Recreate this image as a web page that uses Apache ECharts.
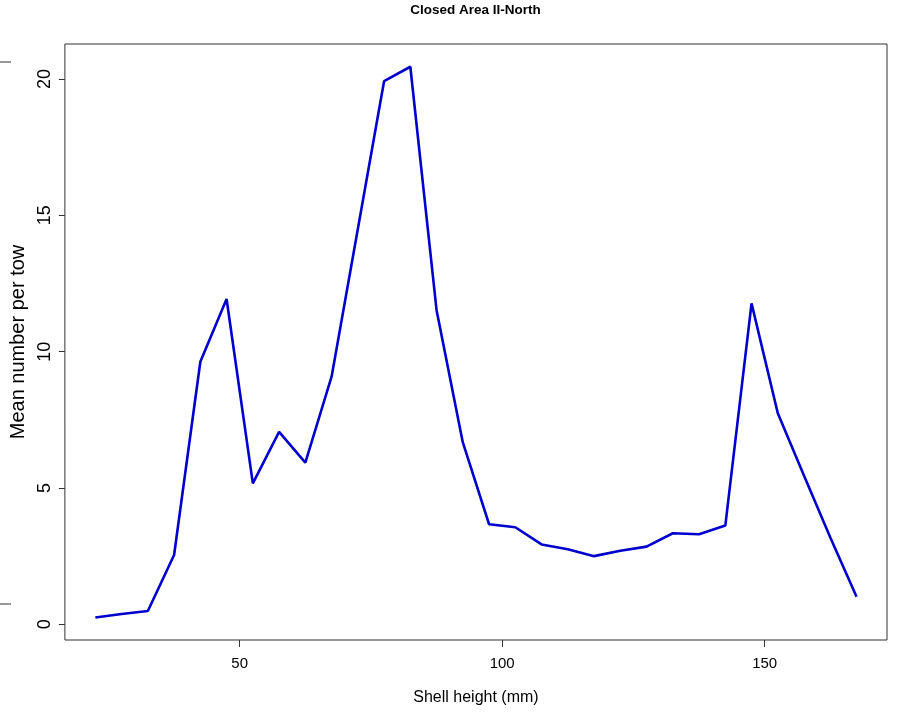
<!DOCTYPE html>
<html>
<head>
<meta charset="utf-8">
<script src="https://cdn.jsdelivr.net/npm/echarts@6/dist/echarts.min.js"></script>
<style>
html,body{margin:0;padding:0;background:#fff;}
#chart{width:897px;height:717px;}
</style>
</head>
<body>
<div id="chart"></div>
<script>
// Data
var shellHeight = [22.5, 27.5, 32.5, 37.5, 42.5, 47.5, 52.5, 57.5, 62.5, 67.5,
                   72.5, 77.5, 82.5, 87.5, 92.5, 97.5, 102.5, 107.5, 112.5, 117.5,
                   122.5, 127.5, 132.5, 137.5, 142.5, 147.5, 152.5, 157.5, 162.5, 167.5];
var meanPerTow = [0.25, 0.38, 0.49, 2.54, 9.63, 11.93, 5.17, 7.06, 5.93, 9.08,
                  14.5, 19.92, 20.45, 11.52, 6.67, 3.67, 3.56, 2.93, 2.75, 2.50,
                  2.70, 2.85, 3.34, 3.30, 3.62, 11.77, 7.74, 5.45, 3.18, 1.01];
var xTicks = [50, 100, 150];
var yTicks = [0, 5, 10, 15, 20];
var titleText = 'Closed Area II-North';
var xName = 'Shell height (mm)';
var yName = 'Mean number per tow';

var gridL = 64, gridT = 44, gridR = 10, gridB = 77;
var W = 897;

var chart = echarts.init(document.getElementById('chart'), null, {renderer: 'canvas'});
chart.setOption({
  backgroundColor: '#fff',
  animation: false,
  title: {
    text: titleText,
    left: (gridL + (W - gridR)) / 2,
    textAlign: 'center',
    top: 3,
    padding: 0,
    textStyle: {fontFamily: 'Liberation Sans', fontWeight: 'bold', fontSize: 13.5, color: '#000'}
  },
  grid: {
    left: gridL, top: gridT, right: gridR, bottom: gridB,
    show: true, borderColor: '#333', borderWidth: 1, backgroundColor: 'transparent'
  },
  xAxis: {
    type: 'value',
    min: 16.7, max: 173.3,
    name: xName,
    nameLocation: 'middle',
    nameGap: 50,
    nameTextStyle: {fontFamily: 'Liberation Sans', fontSize: 16, color: '#000'},
    axisLine: {show: false, onZero: false},
    splitLine: {show: false},
    axisTick: {show: true, inside: false, customValues: xTicks, length: 7, lineStyle: {color: '#333', width: 1}},
    axisLabel: {customValues: xTicks, margin: 16, fontFamily: 'Liberation Sans', fontSize: 15, color: '#000'}
  },
  yAxis: {
    type: 'value',
    min: -0.576, max: 21.284,
    name: yName,
    nameLocation: 'middle',
    nameGap: 35,
    nameRotate: 90,
    nameTextStyle: {fontFamily: 'Liberation Sans', fontSize: 20, color: '#000'},
    axisLine: {show: false, onZero: false},
    splitLine: {show: false},
    axisTick: {show: true, inside: false, customValues: yTicks, length: 6, lineStyle: {color: '#333', width: 1}},
    axisLabel: {customValues: yTicks, rotate: 90, margin: 11, fontFamily: 'Liberation Sans', fontSize: 18, color: '#000'}
  },
  graphic: [
    {type: 'line', shape: {x1: 0, y1: 62, x2: 11, y2: 62}, style: {stroke: '#333', lineWidth: 1}},
    {type: 'line', shape: {x1: 0, y1: 604, x2: 11, y2: 604}, style: {stroke: '#333', lineWidth: 1}}
  ],
  series: [{
    type: 'line',
    data: shellHeight.map(function (x, i) { return [x, meanPerTow[i]]; }),
    showSymbol: false,
    symbol: 'none',
    lineStyle: {color: '#0000CD', width: 2.6},
    itemStyle: {color: '#0000CD'}
  }]
});
</script>
</body>
</html>
